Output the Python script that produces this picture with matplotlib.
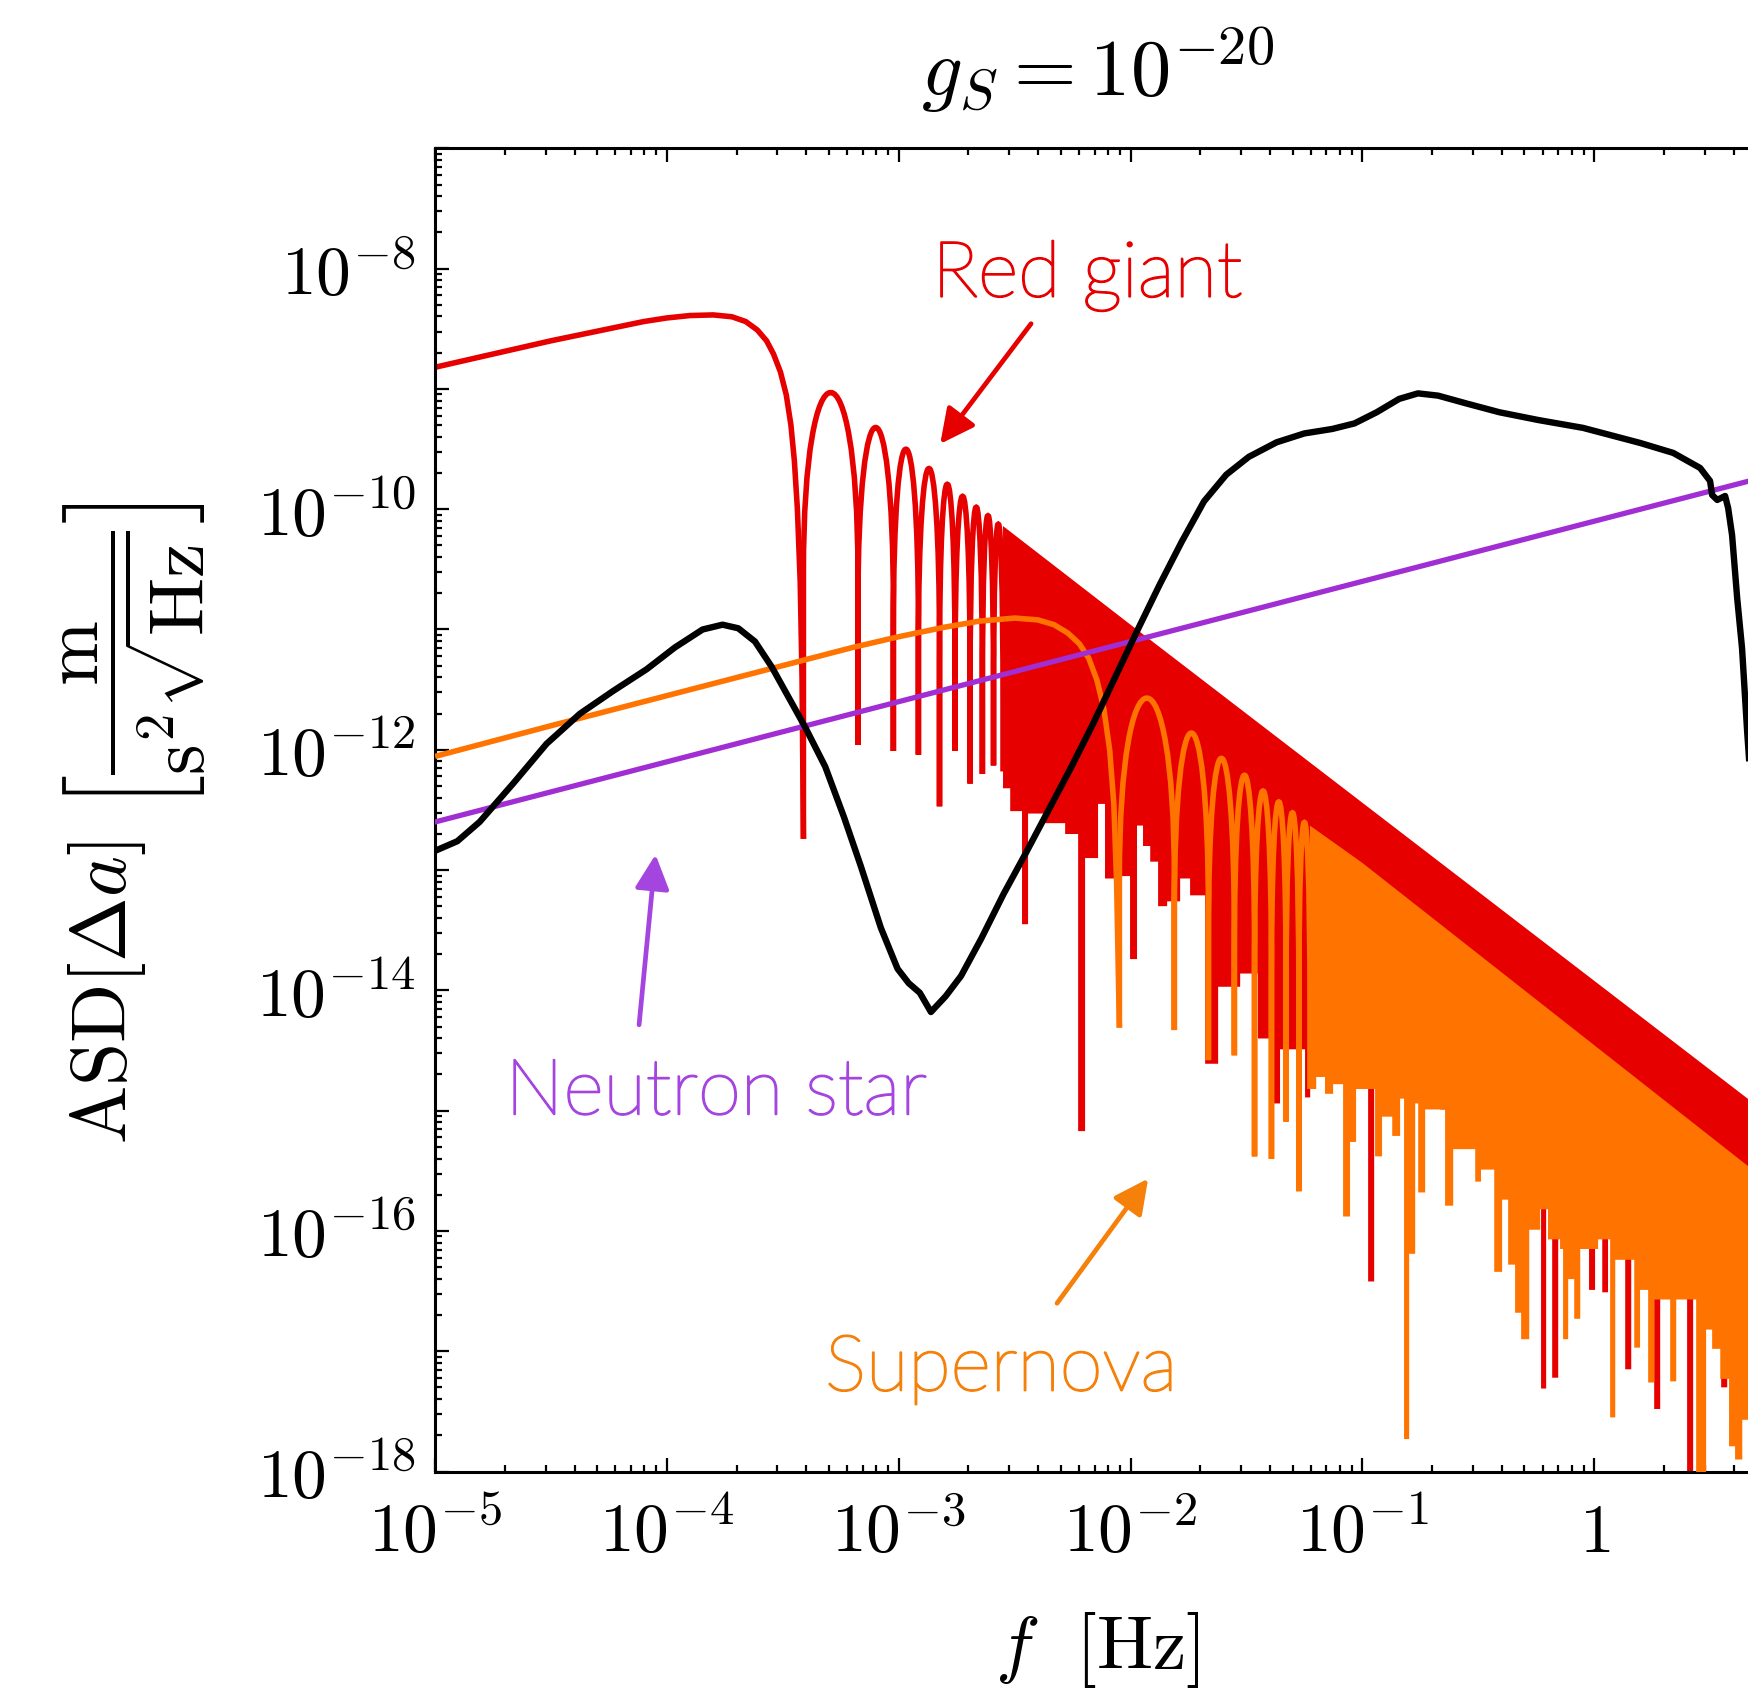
import numpy as np
import matplotlib
matplotlib.use("Agg")
import matplotlib.pyplot as plt
import matplotlib.patheffects as pe
from matplotlib.path import Path
from matplotlib.patches import PathPatch
from matplotlib.ticker import LogLocator, FuncFormatter

plt.rcParams['mathtext.fontset'] = 'cm'
plt.rcParams['font.family'] = 'DejaVu Serif'

# all values are log10(f / Hz) and log10(ASD)

# red giant: smooth part down to the first zero
rg_lf = [-5.0, -4.75, -4.5, -4.25, -4.1, -4.0, -3.9, -3.8, -3.72, -3.66,
         -3.61, -3.57, -3.54, -3.51, -3.485, -3.465, -3.45, -3.437, -3.425, -3.417, -3.411]
rg_la = [-8.82, -8.71, -8.60, -8.50, -8.44, -8.41, -8.39, -8.385, -8.40, -8.44,
         -8.51, -8.60, -8.71, -8.86, -9.05, -9.30, -9.60, -10.0, -10.6, -11.4, -12.74]
rg_zero_lf = [-3.411, -3.176, -3.023, -2.915, -2.824, -2.757, -2.692, -2.639, -2.591, -2.550]
rg_zero_la = [-12.74, -11.96, -12.01, -12.04, -12.47, -12.01, -12.28, -12.20, -12.13, -12.18]
rg_peak_la = [-9.03, -9.32, -9.50, -9.66, -9.79, -9.89, -9.98, -10.05, -10.12]
# dense part: upper envelope and lower (stepped) edge
rg_top_lf = [-2.55, -2.0, -1.0, 0.0, 1.0]
rg_top_la = [-10.14, -10.96, -12.44, -13.92, -15.40]
rg_low_lf = [-2.550, -2.519, -2.468, -2.442, -2.368, -2.282, -2.226, -2.196, -2.140, -2.110,
             -2.045, -2.002, -1.972, -1.946, -1.915, -1.881, -1.842, -1.786, -1.743, -1.678,
             -1.622, -1.527, -1.450, -1.389, -1.355, -1.247, -1.225, -0.975, -0.949, -0.664,
             -0.263, -0.242, -0.229, -0.207, -0.181, -0.155, -0.022, 0.004, 0.035, 0.060,
             0.134, 0.160, 0.259, 0.285, 0.401, 0.427, 0.548, 0.574, 0.604, 0.626]
rg_low_la = [-12.32, -12.51, -13.45, -12.53, -12.61, -12.70, -15.17, -12.90, -12.45, -13.07,
             -13.05, -13.74, -12.63, -12.80, -12.93, -13.30, -13.26, -13.07, -13.21, -14.61,
             -13.97, -13.86, -14.40, -14.94, -14.49, -14.89, -14.49, -16.42, -14.65, -14.99,
             -15.92, -15.32, -17.31, -15.40, -17.22, -15.44, -16.49, -15.53, -16.51, -15.57,
             -17.15, -15.65, -17.48, -15.74, -19.0, -15.82, -17.30, -15.90, -17.78, -15.94]

# supernova
sn_lf = [-5.0, -4.5, -4.0, -3.5, -3.2, -3.0, -2.8, -2.65, -2.5, -2.4,
         -2.33, -2.27, -2.22, -2.18, -2.145, -2.115, -2.09, -2.072, -2.06, -2.048]
sn_la = [-12.055, -11.80, -11.55, -11.30, -11.15, -11.06, -10.98, -10.93, -10.905, -10.92,
         -10.96, -11.03, -11.12, -11.24, -11.42, -11.66, -12.0, -12.45, -13.1, -14.31]
sn_zero_lf = [-2.048, -1.811, -1.664, -1.552, -1.465, -1.392, -1.329, -1.274, -1.226]
sn_zero_la = [-14.31, -14.33, -14.58, -14.54, -15.38, -15.40, -15.09, -15.67, -14.82]
sn_peak_la = [-11.57, -11.86, -12.07, -12.21, -12.34, -12.43, -12.52, -12.60]
sn_top_lf = [-1.226, -1.0, 0.0, 1.0]
sn_top_la = [-12.63, -12.94, -14.455, -15.97]
sn_low_lf = [-1.226, -1.199, -1.161, -1.126, -1.083, -1.053, -1.027, -0.945, -0.915, -0.871,
             -0.837, -0.820, -0.798, -0.772, -0.759, -0.729, -0.643, -0.608, -0.513, -0.488,
             -0.431, -0.397, -0.371, -0.341, -0.315, -0.280, -0.233, -0.199, -0.147, -0.134,
             -0.112, -0.086, -0.060, 0.017, 0.069, 0.091, 0.173, 0.198, 0.233, 0.259,
             0.328, 0.354, 0.440, 0.483, 0.509, 0.544, 0.582, 0.608, 0.639]
sn_low_la = [-14.82, -14.72, -14.86, -14.78, -15.88, -15.26, -14.82, -15.38, -15.05, -15.21,
             -14.90, -17.73, -16.19, -14.94, -15.68, -14.99, -15.79, -15.32, -15.59, -15.49,
             -16.34, -15.74, -16.28, -16.68, -16.90, -15.99, -15.82, -16.07, -16.15, -16.90,
             -16.40, -16.73, -16.15, -16.07, -17.55, -16.24, -16.97, -16.49, -17.26, -16.57,
             -17.25, -16.57, -19.0, -16.82, -16.98, -17.23, -17.79, -17.90, -17.57]

# neutron star
ns_lf = [-5.0, 1.0]
ns_la = [-12.6, -9.6]

# detector noise (black)
det_lf = [-5.0, -4.904, -4.808, -4.663, -4.519, -4.375, -4.231, -4.087, -3.966, -3.846,
          -3.760, -3.692, -3.620, -3.548, -3.476, -3.404, -3.317, -3.236, -3.163, -3.077,
          -3.005, -2.957, -2.909, -2.861, -2.798, -2.731, -2.644, -2.548, -2.452, -2.356,
          -2.260, -2.163, -2.067, -1.971, -1.875, -1.779, -1.683, -1.587, -1.490, -1.370,
          -1.250, -1.130, -1.034, -0.938, -0.841, -0.760, -0.673, -0.553, -0.409, -0.240,
          -0.048, 0.198, 0.341, 0.457, 0.500, 0.509, 0.531, 0.565, 0.578, 0.595,
          0.617, 0.638, 0.660, 0.695]
det_la = [-12.84, -12.76, -12.60, -12.28, -11.95, -11.70, -11.51, -11.33, -11.15, -11.00,
          -10.96, -10.99, -11.10, -11.31, -11.56, -11.81, -12.14, -12.56, -12.97, -13.48,
          -13.82, -13.94, -14.02, -14.18, -14.05, -13.88, -13.57, -13.20, -12.86, -12.51,
          -12.16, -11.79, -11.40, -11.01, -10.63, -10.27, -9.935, -9.713, -9.565, -9.444,
          -9.370, -9.333, -9.287, -9.194, -9.083, -9.037, -9.056, -9.120, -9.194, -9.259,
          -9.324, -9.449, -9.532, -9.657, -9.765, -9.882, -9.923, -9.890, -9.990, -10.215,
          -10.739, -11.156, -11.847, -12.82]

RED = '#e60000'
ORANGE = '#ff7300'
PURPLE = '#a02ed2'


def lobes(zero_lf, zero_la, peak_la):
    # arches between consecutive zeros, drawn as bezier curves
    zf = 10.0 ** np.array(zero_lf)
    za = 10.0 ** np.array(zero_la)
    verts = [(zf[0], za[0])]
    codes = [Path.MOVETO]
    for i, p in enumerate(peak_la):
        lo = 10.0 ** (p - 1.5)
        hi = 10.0 ** (p + 0.5)
        verts += [(zf[i], lo), (zf[i], hi), (zf[i + 1], hi), (zf[i + 1], lo), (zf[i + 1], za[i + 1])]
        codes += [Path.LINETO, Path.CURVE4, Path.CURVE4, Path.CURVE4, Path.LINETO]
    return Path(verts, codes)


def band(ax, top_lf, top_la, low_lf, low_la, color, z):
    edges = np.append(low_lf, top_lf[-1])
    sx = np.repeat(edges, 2)[1:-1]
    sy = np.repeat(low_la, 2)
    x = np.concatenate([top_lf, sx[::-1]])
    y = np.concatenate([top_la, sy[::-1]])
    ax.fill(10.0 ** x, 10.0 ** y, color=color, lw=0, zorder=z)


fig = plt.figure(figsize=(17.48, 17.01), dpi=100)
ax = fig.add_axes([0.2489, 0.1349, 0.7957, 0.7779])
ax.set_xscale('log')
ax.set_yscale('log')
ax.set_xlim(1e-5, 1e1)
ax.set_ylim(1e-18, 1e-7)

lw = 4.0
# red giant
ax.plot(10.0 ** np.array(rg_lf), 10.0 ** np.array(rg_la), color=RED, lw=lw,
        solid_capstyle='butt', zorder=2)
ax.add_patch(PathPatch(lobes(rg_zero_lf, rg_zero_la, rg_peak_la), fill=False,
                       edgecolor=RED, lw=lw, capstyle='butt', joinstyle='bevel', zorder=2))
band(ax, rg_top_lf, rg_top_la, rg_low_lf, rg_low_la, RED, 2)

# supernova
ax.plot(10.0 ** np.array(sn_lf), 10.0 ** np.array(sn_la), color=ORANGE, lw=lw,
        solid_capstyle='butt', zorder=3)
ax.add_patch(PathPatch(lobes(sn_zero_lf, sn_zero_la, sn_peak_la), fill=False,
                       edgecolor=ORANGE, lw=lw, capstyle='butt', joinstyle='bevel', zorder=3))
band(ax, sn_top_lf, sn_top_la, sn_low_lf, sn_low_la, ORANGE, 3)

# neutron star
ax.plot(10.0 ** np.array(ns_lf), 10.0 ** np.array(ns_la), color=PURPLE, lw=3.8, zorder=4)

# detector
ax.plot(10.0 ** np.array(det_lf), 10.0 ** np.array(det_la), color='black', lw=4.6,
        solid_joinstyle='round', zorder=5)

# labels with arrows
lab_font = dict(family='Lato', weight='light', fontsize=56)
for txt, lf, la, c in [('Red giant', -2.187, -8.233, RED),
                       ('Neutron star', -3.788, -15.03, '#a545e0'),
                       ('Supernova', -2.558, -17.326, '#f5800a')]:
    t = ax.text(10 ** lf, 10 ** la, txt, color=c, ha='center', va='baseline', zorder=6, **lab_font)
    t.set_path_effects([pe.withStroke(linewidth=1.4, foreground=c)])

arrow = dict(arrowstyle='-|>,head_length=1.0,head_width=0.5', lw=3.4, mutation_scale=21,
             shrinkA=0, shrinkB=0)
ax.annotate('', xy=(10 ** -2.821, 10 ** -9.457), xytext=(10 ** -2.429, 10 ** -8.458),
            arrowprops=dict(color=RED, **arrow), zorder=6)
ax.annotate('', xy=(10 ** -4.049, 10 ** -12.871), xytext=(10 ** -4.12, 10 ** -14.286),
            arrowprops=dict(color='#a545e0', **arrow), zorder=6)
ax.annotate('', xy=(10 ** -1.924, 10 ** -15.565), xytext=(10 ** -2.317, 10 ** -16.601),
            arrowprops=dict(color='#f5800a', **arrow), zorder=6)

# ticks
ax.xaxis.set_major_locator(LogLocator(base=10, numticks=20))
ax.xaxis.set_minor_locator(LogLocator(base=10, subs=np.arange(2, 10), numticks=100))
ax.yaxis.set_major_locator(LogLocator(base=10, numticks=30))
ax.yaxis.set_minor_locator(LogLocator(base=10, subs=np.arange(2, 10), numticks=100))


def xfmt(v, pos):
    e = int(round(np.log10(v)))
    if e > 0:
        return ''
    return '$1$' if e == 0 else '$10^{%d}$' % e


def yfmt(v, pos):
    e = int(round(np.log10(v)))
    return '$10^{%d}$' % e if e % 2 == 0 else ''


ax.xaxis.set_major_formatter(FuncFormatter(xfmt))
ax.yaxis.set_major_formatter(FuncFormatter(yfmt))
ax.tick_params(which='both', direction='in', top=True, right=True, width=1.6)
ax.tick_params(which='major', length=10)
ax.tick_params(which='minor', length=5)
ax.tick_params(axis='x', labelsize=50, pad=20)
ax.tick_params(axis='y', labelsize=50, pad=14)
for s in ax.spines.values():
    s.set_linewidth(2.2)

fig.text(0.628, 0.959, r'$g_S = 10^{-20}$', fontsize=58, ha='center', va='center')
fig.text(0.628, 0.030, r'$f\ \ [\mathrm{Hz}]$', fontsize=54, ha='center', va='center')
fig.text(0.0766, 0.516,
         r'$\mathrm{ASD}[\Delta a]\ \left[\dfrac{\mathrm{m}}{\mathrm{s}^2\sqrt{\mathrm{Hz}}}\right]$',
         fontsize=56, ha='center', va='center', rotation=90)

fig.savefig('out.png', dpi=100)
